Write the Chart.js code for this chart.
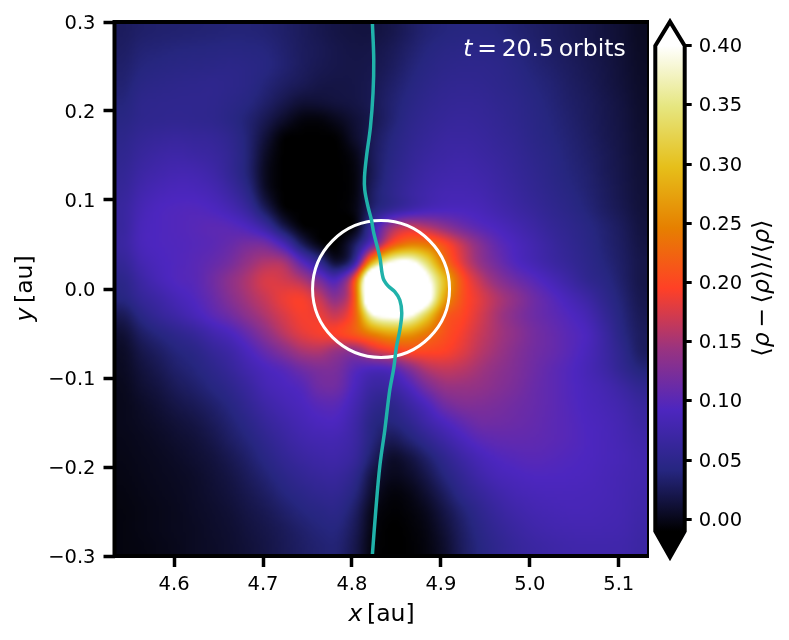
<!DOCTYPE html>
<html>
<head>
<meta charset="utf-8">
<title>Density perturbation</title>
<style>
  html, body { margin: 0; padding: 0; background: #fff; }
  canvas { position: absolute; top: 0; }
  #density-map { left: 0; }
  #color-bar { left: 640px; }
</style>
<script src="https://cdn.jsdelivr.net/npm/chart.js@4/dist/chart.umd.js"></script>
</head>
<body>
<canvas id="density-map" width="649" height="640"></canvas>
<canvas id="color-bar" width="149" height="640"></canvas>
<script>
const xRange = [4.533, 5.134];
const yRange = [-0.3, 0.3];
const xTickValues = [4.6, 4.7, 4.8, 4.9, 5.0, 5.1];
const yTickValues = [-0.3, -0.2, -0.1, 0, 0.1, 0.2, 0.3];
const colorTickValues = [0, 0.05, 0.1, 0.15, 0.2, 0.25, 0.3, 0.35, 0.4];
const colorRange = [-0.01, 0.4];

// rows go from y = 0.3 down to y = -0.3, 30 cells by 30 cells
const densityRows = [
  [.028,.032,.034,.035,.036,.037,.038,.038,.036,.032,.027,.022,.018,.016,.016,.02,.028,.036,.04,.042,.042,.04,.036,.032,.028,.024,.02,.015,.01,.004],
  [.03,.036,.038,.04,.041,.042,.043,.042,.04,.034,.028,.024,.02,.018,.019,.024,.032,.04,.045,.047,.047,.045,.04,.035,.03,.026,.021,.016,.011,.005],
  [.033,.04,.043,.045,.046,.047,.048,.046,.042,.035,.028,.023,.02,.019,.021,.027,.036,.044,.049,.051,.051,.049,.044,.038,.033,.028,.023,.018,.012,.006],
  [.036,.045,.048,.05,.051,.052,.05,.046,.038,.03,.024,.019,.018,.019,.023,.031,.04,.048,.053,.055,.054,.051,.047,.041,.036,.03,.025,.019,.013,.007],
  [.04,.05,.052,.053,.053,.052,.048,.042,.032,.021,.012,.012,.015,.018,.024,.034,.044,.052,.057,.059,.058,.054,.05,.044,.038,.032,.027,.021,.015,.008],
  [.045,.052,.054,.055,.054,.052,.046,.036,.022,.007,-.004,-.005,.002,.012,.022,.035,.048,.056,.061,.063,.061,.057,.052,.046,.04,.034,.028,.022,.016,.009],
  [.05,.058,.062,.064,.062,.06,.052,.036,.012,-.008,-.01,-.01,-.008,.008,.025,.04,.052,.06,.066,.067,.065,.06,.055,.048,.042,.036,.03,.023,.017,.01],
  [.054,.064,.07,.073,.07,.066,.056,.036,.005,-.01,-.01,-.01,-.01,-.001,.026,.043,.056,.065,.07,.072,.069,.064,.058,.051,.045,.038,.032,.025,.018,.011],
  [.058,.07,.077,.081,.08,.073,.058,.036,.002,-.01,-.01,-.01,-.01,-.004,.025,.047,.06,.07,.075,.077,.074,.068,.061,.054,.047,.04,.034,.026,.019,.012],
  [.062,.077,.085,.089,.088,.082,.068,.045,.006,-.01,-.01,-.01,-.01,-.004,.03,.05,.065,.075,.081,.082,.079,.072,.065,.057,.05,.043,.036,.028,.02,.013],
  [.066,.083,.092,.095,.096,.092,.082,.062,.025,-.006,-.01,-.01,-.01,-.002,.036,.057,.073,.085,.09,.09,.086,.078,.07,.062,.054,.047,.039,.03,.022,.014],
  [.066,.087,.093,.096,.099,.102,.1,.09,.065,.022,-.006,-.01,-.01,-.003,.07,.14,.165,.155,.135,.115,.1,.09,.08,.07,.06,.052,.044,.035,.026,.016],
  [.068,.087,.093,.095,.098,.102,.11,.12,.118,.085,.03,-.002,-.008,.03,.11,.205,.245,.24,.205,.165,.13,.105,.09,.078,.066,.056,.047,.037,.028,.018],
  [.06,.08,.09,.095,.1,.108,.12,.14,.155,.15,.1,.055,.012,.07,.29,.39,.41,.34,.24,.18,.14,.115,.095,.082,.07,.06,.05,.04,.03,.02],
  [.05,.07,.085,.095,.1,.115,.135,.155,.175,.172,.155,.12,.095,.21,.55,.55,.55,.42,.3,.21,.165,.135,.115,.1,.085,.07,.055,.045,.032,.02],
  [.043,.06,.072,.085,.095,.11,.13,.15,.168,.185,.19,.165,.135,.22,.55,.55,.55,.44,.28,.21,.18,.155,.135,.115,.1,.085,.07,.052,.036,.022],
  [.025,.045,.06,.072,.085,.1,.115,.135,.155,.175,.19,.185,.17,.22,.38,.41,.4,.32,.225,.2,.175,.15,.13,.115,.105,.095,.082,.06,.04,.025],
  [.012,.03,.042,.052,.062,.077,.09,.11,.135,.16,.18,.19,.195,.215,.25,.275,.27,.24,.21,.19,.168,.15,.135,.12,.11,.1,.09,.068,.044,.028],
  [.006,.02,.03,.04,.047,.06,.072,.09,.11,.13,.15,.155,.14,.135,.165,.185,.2,.2,.195,.18,.16,.145,.13,.118,.11,.1,.088,.07,.05,.03],
  [.004,.014,.023,.033,.04,.05,.062,.077,.09,.1,.115,.125,.122,.1,.09,.095,.125,.155,.165,.16,.148,.136,.126,.115,.105,.096,.085,.072,.055,.04],
  [.002,.01,.017,.026,.033,.042,.052,.066,.082,.09,.098,.115,.115,.09,.068,.07,.09,.12,.14,.142,.138,.13,.122,.112,.104,.096,.088,.08,.068,.055],
  [.001,.006,.012,.019,.025,.033,.043,.057,.072,.082,.09,.1,.1,.08,.055,.05,.068,.09,.115,.126,.126,.122,.116,.11,.104,.097,.09,.084,.076,.065],
  [.001,.004,.008,.013,.018,.026,.036,.048,.062,.073,.083,.09,.09,.072,.045,.04,.052,.072,.09,.105,.115,.115,.112,.108,.103,.098,.092,.087,.08,.07],
  [0,.002,.005,.009,.013,.02,.03,.04,.053,.065,.075,.08,.08,.068,.04,.024,.035,.052,.07,.087,.1,.105,.106,.105,.102,.098,.093,.088,.082,.075],
  [-.001,.001,.003,.006,.01,.015,.023,.033,.045,.057,.066,.072,.073,.062,.03,.008,.015,.032,.052,.07,.085,.094,.098,.1,.098,.095,.092,.088,.084,.078],
  [-.002,0,.002,.004,.007,.012,.018,.027,.037,.048,.057,.063,.064,.05,.016,.002,.006,.02,.04,.058,.074,.085,.09,.093,.093,.092,.09,.086,.082,.078],
  [-.003,-.001,.001,.003,.006,.01,.015,.022,.03,.04,.048,.054,.055,.04,.008,-.005,-.002,.01,.028,.048,.062,.074,.082,.086,.088,.088,.087,.085,.081,.076],
  [-.004,-.002,0,.002,.005,.008,.012,.018,.024,.032,.04,.045,.047,.03,0,-.008,-.006,.002,.018,.036,.052,.065,.074,.08,.083,.085,.085,.083,.08,.074],
  [-.004,-.002,0,.002,.004,.007,.01,.015,.02,.026,.033,.039,.04,.024,-.003,-.01,-.008,-.002,.012,.03,.046,.058,.067,.074,.078,.08,.081,.08,.078,.072],
  [-.004,-.003,-.001,.001,.004,.006,.009,.013,.018,.024,.03,.035,.036,.02,-.005,-.01,-.009,-.004,.008,.027,.042,.053,.062,.068,.072,.075,.076,.076,.075,.07]
];

const streamX = [4.823, 4.8245, 4.8237, 4.8208, 4.8163, 4.8141, 4.8144, 4.8181, 4.8219, 4.8245, 4.8313, 4.835, 4.8406, 4.8481, 4.8538, 4.856, 4.8538, 4.85, 4.847, 4.8425, 4.8369, 4.8313, 4.8268, 4.823];
const streamY = [0.298, 0.2576, 0.2205, 0.1822, 0.1485, 0.126, 0.1114, 0.0922, 0.0776, 0.063, 0.036, 0.0124, 0.0034, -0.003, -0.0124, -0.027, -0.0461, -0.0652, -0.0889, -0.1136, -0.1586, -0.199, -0.2486, -0.298];

const hillCenter = [4.8327, 0];
const hillRadius = 0.077;

// CMRmap
const colorStops = [
  [0, 0, 0], [.15, .15, .5], [.3, .15, .75], [.6, .2, .5], [1, .25, .15],
  [.9, .5, 0], [.9, .75, .1], [.9, .9, .5], [1, 1, 1]
];

const fontFamily = '"DejaVu Sans"';
const tickFontSize = 19.5;
const titleFontSize = 23.5;
const shadingFactor = 6;

function colorAt(fraction) {
  const f = Math.min(Math.max(fraction, 0), 1) * (colorStops.length - 1);
  const i = Math.min(Math.floor(f), colorStops.length - 2);
  const t = f - i;
  return colorStops[i].map((c, k) => Math.round((c + (colorStops[i + 1][k] - c) * t) * 255));
}

function valueFraction(value) {
  return (value - colorRange[0]) / (colorRange[1] - colorRange[0]);
}

function cubic(a, b, c, d, t) {
  return b + 0.5 * t * (c - a + t * (2 * a - 5 * b + 4 * c - d + t * (3 * (b - c) + d - a)));
}

// shading inside the cells, same idea as imshow with interpolation='bicubic'
function shadeAt(rowPos, colPos) {
  const rows = densityRows.length;
  const cols = densityRows[0].length;
  const r = Math.floor(rowPos);
  const c = Math.floor(colPos);
  const pick = (i, j) => densityRows[Math.min(Math.max(i, 0), rows - 1)][Math.min(Math.max(j, 0), cols - 1)];
  const across = [-1, 0, 1, 2].map((d) => cubic(pick(r + d, c - 1), pick(r + d, c), pick(r + d, c + 1), pick(r + d, c + 2), colPos - c));
  return cubic(across[0], across[1], across[2], across[3], rowPos - r);
}

function buildDensityImage() {
  const width = densityRows[0].length * shadingFactor;
  const height = densityRows.length * shadingFactor;
  const image = document.createElement('canvas');
  image.width = width;
  image.height = height;
  const imageCtx = image.getContext('2d');
  const pixels = imageCtx.createImageData(width, height);
  for (let py = 0; py < height; py++) {
    for (let px = 0; px < width; px++) {
      const value = shadeAt((py + 0.5) / shadingFactor - 0.5, (px + 0.5) / shadingFactor - 0.5);
      const [red, green, blue] = colorAt(valueFraction(value));
      const offset = (py * width + px) * 4;
      pixels.data[offset] = red;
      pixels.data[offset + 1] = green;
      pixels.data[offset + 2] = blue;
      pixels.data[offset + 3] = 255;
    }
  }
  imageCtx.putImageData(pixels, 0, 0);
  return image;
}

// text with italic parts, segments are [text, isItalic]
function drawSegments(ctx, segments, x, y, size, color, rotated) {
  ctx.save();
  ctx.translate(x, y);
  if (rotated) ctx.rotate(-Math.PI / 2);
  ctx.fillStyle = color;
  ctx.textBaseline = 'alphabetic';
  ctx.textAlign = 'left';
  let total = 0;
  for (const [text, italic] of segments) {
    ctx.font = `${italic ? 'italic ' : ''}${size}px ${fontFamily}`;
    total += ctx.measureText(text).width;
  }
  let cursor = -total / 2;
  for (const [text, italic] of segments) {
    ctx.font = `${italic ? 'italic ' : ''}${size}px ${fontFamily}`;
    ctx.fillText(text, cursor, 0);
    cursor += ctx.measureText(text).width;
  }
  ctx.restore();
}

const densityImage = buildDensityImage();

const densityPlugin = {
  id: 'densityPlugin',
  beforeDatasetsDraw(chart) {
    const { ctx, scales, chartArea } = chart;
    const left = scales.x.getPixelForValue(xRange[0]);
    const right = scales.x.getPixelForValue(xRange[1]);
    const top = scales.y.getPixelForValue(yRange[1]);
    const bottom = scales.y.getPixelForValue(yRange[0]);
    ctx.save();
    ctx.beginPath();
    ctx.rect(chartArea.left, chartArea.top, chartArea.width, chartArea.height);
    ctx.clip();
    ctx.imageSmoothingEnabled = true;
    ctx.imageSmoothingQuality = 'high';
    ctx.drawImage(densityImage, left, top, right - left, bottom - top);
    // hill sphere
    ctx.beginPath();
    ctx.arc(
      scales.x.getPixelForValue(hillCenter[0]),
      scales.y.getPixelForValue(hillCenter[1]),
      scales.x.getPixelForValue(hillCenter[0] + hillRadius) - scales.x.getPixelForValue(hillCenter[0]),
      0, Math.PI * 2
    );
    ctx.lineWidth = 3;
    ctx.strokeStyle = '#fff';
    ctx.stroke();
    ctx.restore();
  },
  afterDraw(chart) {
    const { ctx, chartArea } = chart;
    ctx.save();
    ctx.lineWidth = 4;
    ctx.strokeStyle = '#000';
    ctx.strokeRect(chartArea.left, chartArea.top, chartArea.width, chartArea.height);
    ctx.restore();
    drawSegments(ctx, [['t', true], ['\u2009=\u200920.5\u2009orbits', false]], 544.5, 56, titleFontSize, '#fff');
    drawSegments(ctx, [['x', true], ['\u2009[au]', false]], 381.5, 620.5, titleFontSize, '#000');
    drawSegments(ctx, [['y', true], ['\u2009[au]', false]], 32, 288.5, titleFontSize, '#000', true);
  }
};

new Chart(document.getElementById('density-map'), {
  type: 'scatter',
  data: {
    datasets: [{
      label: 'streamline',
      data: streamX.map((x, i) => ({ x, y: streamY[i] })),
      showLine: true,
      borderColor: '#20b2aa',
      borderWidth: 3.5,
      pointRadius: 0,
      tension: 0.35
    }]
  },
  options: {
    responsive: false,
    animation: false,
    layout: { padding: { top: 22, right: 0 } },
    plugins: { legend: { display: false }, tooltip: { enabled: false } },
    scales: {
      x: {
        type: 'linear',
        min: xRange[0],
        max: xRange[1],
        afterBuildTicks: (scale) => { scale.ticks = xTickValues.map((value) => ({ value })); },
        afterFit: (scale) => { scale.height = 84; },
        border: { display: false },
        grid: { drawOnChartArea: false, tickLength: 11, tickWidth: 3.5, tickColor: '#000' },
        ticks: {
          color: '#000',
          maxRotation: 0,
          padding: 6,
          font: { family: fontFamily, size: tickFontSize },
          callback: (value) => value.toFixed(1)
        }
      },
      y: {
        type: 'linear',
        min: yRange[0],
        max: yRange[1],
        afterBuildTicks: (scale) => { scale.ticks = yTickValues.map((value) => ({ value })); },
        afterFit: (scale) => { scale.width = 114.5; },
        border: { display: false },
        grid: { drawOnChartArea: false, tickLength: 11, tickWidth: 3.5, tickColor: '#000' },
        ticks: {
          color: '#000',
          padding: 8,
          labelOffset: 1.5,
          font: { family: fontFamily, size: tickFontSize },
          callback: (value) => value.toFixed(1).replace('-', '\u2212')
        }
      }
    }
  },
  plugins: [densityPlugin]
});

const colorBarPlugin = {
  id: 'colorBarPlugin',
  beforeDatasetsDraw(chart) {
    const { ctx, chartArea, scales } = chart;
    const { left, right } = chartArea;
    const middle = (left + right) / 2;
    const top = scales.y.getPixelForValue(colorRange[1]);
    const bottom = scales.y.getPixelForValue(colorRange[0]);
    const gradient = ctx.createLinearGradient(0, bottom, 0, top);
    colorStops.forEach((stop, i) => {
      gradient.addColorStop(i / (colorStops.length - 1), `rgb(${stop.map((c) => c * 255).join(',')})`);
    });
    ctx.save();
    ctx.fillStyle = gradient;
    ctx.fillRect(left, top, right - left, bottom - top);
    // extend triangles
    ctx.fillStyle = '#fff';
    ctx.beginPath();
    ctx.moveTo(left, top);
    ctx.lineTo(middle, top - 24);
    ctx.lineTo(right, top);
    ctx.closePath();
    ctx.fill();
    ctx.fillStyle = '#000';
    ctx.beginPath();
    ctx.moveTo(left, bottom);
    ctx.lineTo(middle, bottom + 26);
    ctx.lineTo(right, bottom);
    ctx.closePath();
    ctx.fill();
    ctx.beginPath();
    ctx.moveTo(left, top);
    ctx.lineTo(middle, top - 24);
    ctx.lineTo(right, top);
    ctx.lineTo(right, bottom);
    ctx.lineTo(middle, bottom + 26);
    ctx.lineTo(left, bottom);
    ctx.closePath();
    ctx.lineWidth = 4;
    ctx.strokeStyle = '#000';
    ctx.stroke();
    ctx.restore();
  },
  afterDraw(chart) {
    drawSegments(chart.ctx, [['\u27E8', false], ['\u03C1', true], ['\u2009\u2212\u2009\u27E8', false], ['\u03C1', true], ['\u27E9\u27E9/\u27E8', false], ['\u03C1', true], ['\u27E9', false]], 129, 288, titleFontSize, '#000', true);
  }
};

new Chart(document.getElementById('color-bar'), {
  type: 'scatter',
  data: { datasets: [] },
  options: {
    responsive: false,
    animation: false,
    layout: { padding: { top: 45.7, bottom: 108.9, left: 15.3, right: 0 } },
    plugins: { legend: { display: false }, tooltip: { enabled: false } },
    scales: {
      x: { type: 'linear', display: false },
      y: {
        type: 'linear',
        position: 'right',
        min: colorRange[0],
        max: colorRange[1],
        afterBuildTicks: (scale) => { scale.ticks = colorTickValues.map((value) => ({ value })); },
        afterFit: (scale) => { scale.width = 104.3; },
        border: { display: false },
        grid: { drawOnChartArea: false, tickLength: 7, tickWidth: 3, tickColor: '#000' },
        ticks: {
          color: '#000',
          padding: 7,
          labelOffset: 1.5,
          font: { family: fontFamily, size: tickFontSize },
          callback: (value) => value.toFixed(2)
        }
      }
    }
  },
  plugins: [colorBarPlugin]
});
</script>
</body>
</html>
